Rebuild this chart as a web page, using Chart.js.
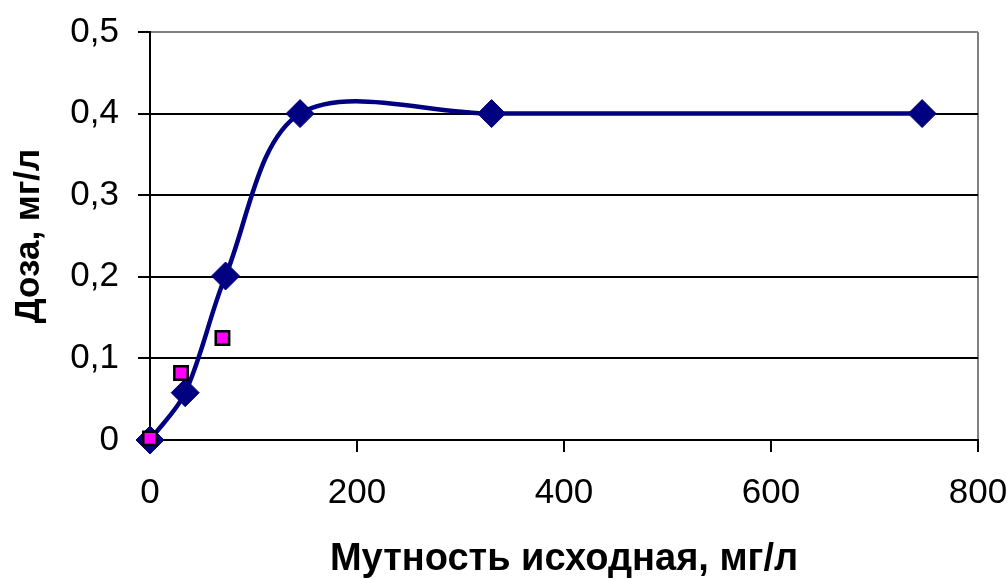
<!DOCTYPE html>
<html>
<head>
<meta charset="utf-8">
<script src="https://cdn.jsdelivr.net/npm/chart.js@4.4.1/dist/chart.umd.min.js"></script>
<style>
  html, body { margin: 0; padding: 0; background: #ffffff; }
  #wrap { width: 1007px; height: 579px; position: relative; }
</style>
</head>
<body>
<div id="wrap"><canvas id="c" width="1007" height="579"></canvas></div>
<script>
// Turbidity of the source water (mg/l) and the coagulant dose (mg/l)
const turbidityMain = [0, 34, 73, 145, 330, 746];
const doseMain      = [0, 0.058, 0.201, 0.4, 0.4, 0.4];

const turbidityExtra = [0, 30, 70];
const doseExtra      = [0.002, 0.082, 0.125];

const xTickValues = [0, 200, 400, 600, 800];
const yTickLabels = ['0', '0,1', '0,2', '0,3', '0,4', '0,5'];

const xTitle = 'Мутность исходная, мг/л';
const yTitle = 'Доза, мг/л';

const FONT = '"Liberation Sans", Arial, sans-serif';

function toPoints(xs, ys) {
  return xs.map((x, i) => ({ x: x, y: ys[i] }));
}

new Chart(document.getElementById('c'), {
  type: 'line',
  data: {
    datasets: [
      {
        label: 'extra',
        data: toPoints(turbidityExtra, doseExtra),
        showLine: false,
        pointStyle: 'rect',
        pointRadius: 9.5,
        pointHoverRadius: 9.5,
        backgroundColor: '#ff00ff',
        borderColor: '#000000',
        pointBorderWidth: 2.5,
        order: 0,
        clip: false
      },
      {
        label: 'main',
        data: toPoints(turbidityMain, doseMain),
        borderColor: '#000080',
        backgroundColor: '#000080',
        borderWidth: 4.5,
        tension: 0.33,
        pointStyle: 'rectRot',
        pointRadius: 14,
        pointHoverRadius: 14,
        pointBorderWidth: 1,
        pointBackgroundColor: '#000080',
        pointBorderColor: '#000080',
        order: 1,
        clip: false
      }
    ]
  },
  options: {
    responsive: false,
    animation: false,
    events: [],
    layout: { padding: { top: 32, right: 29, left: 0, bottom: 0 } },
    plugins: {
      legend: { display: false },
      tooltip: { enabled: false }
    },
    scales: {
      x: {
        type: 'linear',
        min: 0,
        max: 800,
        afterBuildTicks: (scale) => {
          scale.ticks = xTickValues.map(v => ({ value: v }));
        },
        ticks: {
          color: '#000000',
          padding: 20,
          maxRotation: 0,
          font: { family: FONT, size: 35 },
          callback: (v) => String(v)
        },
        grid: {
          drawOnChartArea: true,
          color: (ctx) => (ctx.tick && ctx.tick.value === 800 ? '#808080' : 'rgba(0,0,0,0)'),
          tickColor: '#000000',
          tickLength: 12,
          lineWidth: 2
        },
        border: { display: true, color: '#000000', width: 2 },
        title: {
          display: true,
          text: xTitle,
          color: '#000000',
          font: { family: FONT, size: 38, weight: 'bold', lineHeight: 1 },
          padding: { top: 0, bottom: 0 }
        },
        afterFit: (scale) => {
          scale.height = 139;
          scale.paddingLeft = 0;
          scale.paddingRight = 0;
        }
      },
      y: {
        type: 'linear',
        min: 0,
        max: 0.5,
        ticks: {
          stepSize: 0.1,
          color: '#000000',
          padding: 19,
          font: { family: FONT, size: 35 },
          callback: (v, i) => yTickLabels[i]
        },
        grid: {
          color: (ctx) => (ctx.tick && Math.abs(ctx.tick.value - 0.5) < 1e-9 ? '#808080' : '#000000'),
          tickColor: '#000000',
          tickLength: 12,
          lineWidth: 2
        },
        border: { display: true, color: '#000000', width: 2 },
        title: {
          display: true,
          text: yTitle,
          color: '#000000',
          font: { family: FONT, size: 35, weight: 'bold', lineHeight: 1 },
          padding: { top: 12, bottom: 0 }
        },
        afterFit: (scale) => {
          scale.width = 150;
          scale.paddingTop = 0;
          scale.paddingBottom = 0;
        }
      }
    }
  }
});
</script>
</body>
</html>
